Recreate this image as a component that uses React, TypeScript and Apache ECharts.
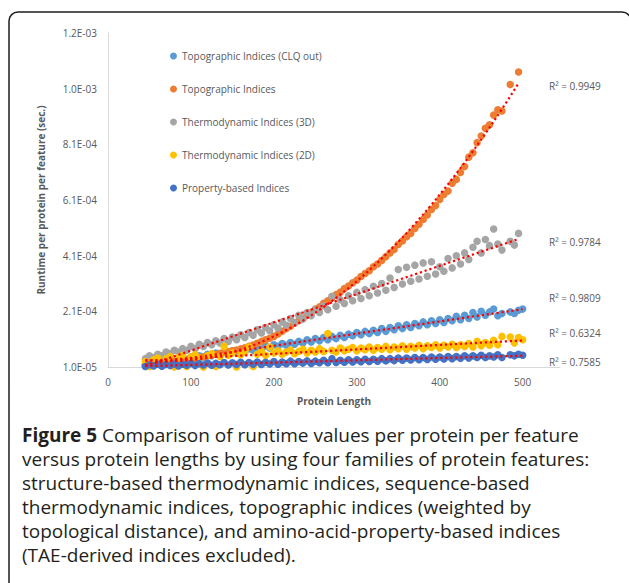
import React, { useEffect, useRef } from "react";
import * as echarts from "echarts";

// All runtime values below are in units of 1e-5 seconds.
const UNIT = 1e-5;
const AXIS_ORIGIN = 1; // the y axis starts at 1.0E-05 s (1 unit)

const lengths = [
  45, 50, 55, 60, 65, 70, 75, 80, 85, 90,
  95, 100, 105, 110, 115, 120, 125, 130, 135, 140,
  145, 150, 155, 160, 165, 170, 175, 180, 185, 190,
  195, 200, 205, 210, 215, 220, 225, 230, 235, 240,
  245, 250, 255, 260, 265, 270, 275, 280, 285, 290,
  295, 300, 305, 310, 315, 320, 325, 330, 335, 340,
  345, 350, 355, 360, 365, 370, 375, 380, 385, 390,
  395, 400, 405, 410, 415, 420, 425, 430, 435, 440,
  445, 450, 455, 460, 465, 470, 475, 480, 485, 490,
  495, 500,
];

const topoClqOut = [
  2.0, 2.6, 2.2, 3.0, 2.6, 3.4, 3.0, 3.8, 3.4, 4.2,
  3.8, 4.6, 4.2, 5.0, 4.6, 5.6, 5.0, 6.0, 5.4, 6.4,
  5.8, 6.8, 6.2, 7.2, 6.6, 7.6, 7.0, 8.0, 7.4, 8.6,
  7.8, 9.0, 8.4, 9.4, 8.8, 9.8, 9.2, 10.2, 9.6, 10.8,
  10.0, 11.2, 10.4, 11.6, 10.8, 12.0, 11.2, 12.4, 11.6, 12.8,
  12.2, 13.4, 12.6, 13.8, 13.0, 14.2, 13.4, 14.8, 13.8, 15.2,
  14.4, 15.8, 14.8, 16.2, 15.2, 16.6, 15.8, 17.2, 16.2, 17.6,
  16.6, 18.0, 17.0, 18.4, 17.6, 19.2, 18.0, 19.6, 18.4, 20.6,
  19.0, 21.0, 19.6, 20.8, 21.8, 19.4, 20.2, null, 20.8, 20.2,
  21.4, 21.8,
];

const topoIndices = [
  1.5, 1.7, 1.9, 2.0, 2.3, 2.4, 2.7, 2.9, 3.2, 3.4,
  3.6, 3.8, 4.1, 4.4, 4.7, 5.0, 5.3, 5.6, 5.9, 6.2,
  6.5, 6.8, 7.1, 7.5, 7.9, 8.4, 8.9, 9.5, 10.2, 10.8,
  11.3, 12.0, 12.9, 13.8, 14.8, 15.6, 16.7, 17.6, 18.5, 19.6,
  20.6, 21.8, 22.6, 23.9, 24.8, 25.9, 27.0, 27.9, 29.2, 30.1,
  31.3, 32.2, 33.5, 34.6, 35.6, 37.0, 38.0, 39.3, 40.6, 42.0,
  43.2, 45.0, 46.3, 47.8, 49.0, 50.8, 52.3, 54.0, 55.6, 57.6,
  59.0, 61.2, 63.0, 64.2, 67.0, 68.4, 70.9, 73.0, 76.4, 78.0,
  81.6, 84.0, 86.8, 88.0, 91.5, 93.4, 93.0, null, 102.5, null,
  107.0, null,
];

const thermo3D = [
  4.0, 5.0, 4.4, 5.6, 5.0, 6.4, 5.8, 7.0, 6.4, 7.6,
  7.0, 8.4, 7.6, 9.2, 8.4, 9.8, 9.0, 10.4, 9.6, 11.2,
  10.2, 11.8, 10.8, 12.6, 11.6, 13.4, 12.4, 14.4, 13.2, 15.2,
  14.0, 16.2, 15.0, 17.2, 16.0, 18.4, 17.0, 19.6, 18.2, 20.6,
  19.4, 21.6, 20.6, 23.0, 21.6, 26.4, 22.8, 25.2, 23.8, 26.6,
  24.8, 27.8, 25.6, 28.8, 26.6, 30.0, 27.6, 31.0, 28.6, 33.0,
  29.6, 36.0, 30.8, 36.8, 31.8, 37.6, 32.6, 38.4, 33.6, 38.8,
  34.4, 37.0, 35.4, 40.0, 36.6, 41.0, 38.0, 42.0, 39.6, 44.0,
  46.2, 42.0, 46.8, 44.6, 50.6, 45.2, 43.0, null, 46.2, 44.8,
  49.0, null,
];

const thermo2D = [
  3.0, 1.2, 3.6, 4.2, 1.4, 4.0, 4.8, 1.0, 4.4, 5.2,
  1.2, 4.6, 5.4, 4.2, 1.0, 5.0, 5.8, 1.2, 4.8, 8.4,
  5.2, 6.0, 1.0, 5.4, 6.4, 8.2, 1.2, 5.6, 6.6, 5.2,
  8.2, 6.0, 6.8, 5.6, 6.4, 7.0, 5.8, 6.6, 7.4, 6.0,
  7.0, 6.4, 7.6, 6.6, 13.0, 7.0, 6.4, 7.8, 6.8, 7.4,
  8.0, 6.8, 7.8, 7.2, 8.2, 7.0, 8.0, 7.4, 8.4, 7.2,
  8.2, 7.6, 8.6, 7.4, 8.4, 7.8, 8.8, 7.6, 8.6, 8.0,
  9.0, 7.8, 8.8, 8.2, 9.2, 8.0, 9.0, 8.4, 9.4, 8.2,
  10.2, 8.6, 9.8, 8.8, 10.6, 9.0, 12.0, null, 11.8, 9.6,
  11.6, 10.8,
];

const propertyBased = [
  1.2, 1.8, 1.4, 2.0, 1.3, 1.9, 1.5, 2.1, 1.4, 2.0,
  1.6, 2.3, 1.5, 2.2, 1.7, 2.4, 1.6, 2.3, 1.8, 2.6,
  1.7, 2.5, 1.9, 2.7, 1.8, 2.6, 2.0, 2.8, 1.9, 2.7,
  2.1, 3.0, 2.0, 2.8, 2.2, 3.1, 2.2, 3.0, 2.4, 3.2,
  2.3, 3.1, 2.5, 3.4, 2.5, 4.0, 2.6, 3.4, 2.7, 3.6,
  2.8, 3.6, 2.9, 3.8, 3.0, 3.8, 3.1, 4.0, 3.2, 4.0,
  3.3, 4.2, 3.4, 4.2, 3.5, 4.4, 3.6, 4.4, 3.7, 4.6,
  3.8, 4.6, 3.9, 4.8, 4.0, 4.8, 4.1, 5.0, 4.2, 5.0,
  4.4, 5.2, 4.4, 5.0, 4.6, 5.4, 4.4, null, 5.4, 5.0,
  5.6, 5.2,
];

const seriesNames = [
  "Topographic Indices (CLQ out)",
  "Topographic Indices",
  "Thermodynamic Indices (3D)",
  "Thermodynamic Indices (2D)",
  "Property-based Indices",
];
const seriesColors = ["#5B9BD5", "#ED7D31", "#A5A5A5", "#FFC000", "#4472C4"];
const seriesValues = [topoClqOut, topoIndices, thermo3D, thermo2D, propertyBased];
const trendOrders = [1, 2, 1, 1, 1];
const r2Labels = ["R² = 0.9809", "R² = 0.9949", "R² = 0.9784", "R² = 0.6324", "R² = 0.7585"];

const captionBold = "Figure 5";
const captionLines = [
  " Comparison of runtime values per protein per feature",
  "versus protein lengths by using four families of protein features:",
  "structure-based thermodynamic indices, sequence-based",
  "thermodynamic indices, topographic indices (weighted by",
  "topological distance), and amino-acid-property-based indices",
  "(TAE-derived indices excluded).",
];

const FONT = "'Open Sans', 'Noto Sans', sans-serif";

function fitPoly(xs: number[], ys: number[], order: number): number[] {
  const n = order + 1;
  const A: number[][] = Array.from({ length: n }, () => new Array(n + 1).fill(0));
  for (let k = 0; k < xs.length; k++) {
    for (let i = 0; i < n; i++) {
      for (let j = 0; j < n; j++) A[i][j] += Math.pow(xs[k], i + j);
      A[i][n] += ys[k] * Math.pow(xs[k], i);
    }
  }
  for (let c = 0; c < n; c++) {
    let p = c;
    for (let r = c + 1; r < n; r++) if (Math.abs(A[r][c]) > Math.abs(A[p][c])) p = r;
    [A[c], A[p]] = [A[p], A[c]];
    for (let r = 0; r < n; r++) {
      if (r === c) continue;
      const f = A[r][c] / A[c][c];
      for (let j = c; j <= n; j++) A[r][j] -= f * A[c][j];
    }
  }
  return A.map((row, i) => row[n] / A[i][i]);
}

function formatSci(v: number): string {
  const s = v.toExponential(1);
  const [m, e] = s.split("e");
  const exp = parseInt(e, 10);
  return `${m}E${exp < 0 ? "-" : "+"}${String(Math.abs(exp)).padStart(2, "0")}`;
}

export default function App() {
  const ref = useRef<HTMLDivElement>(null);

  useEffect(() => {
    if (!ref.current) return;
    const chart = echarts.init(ref.current, undefined, { renderer: "svg" });

    const scatterSeries: any[] = [];
    const trendSeries: any[] = [];
    seriesValues.forEach((vals, si) => {
      const pts: number[][] = [];
      const xs: number[] = [];
      const ys: number[] = [];
      vals.forEach((v, i) => {
        if (v === null || v === undefined) return;
        pts.push([lengths[i], (v as number) - AXIS_ORIGIN]);
        xs.push(lengths[i]);
        ys.push(v as number);
      });
      scatterSeries.push({
        name: seriesNames[si],
        type: "scatter",
        data: pts,
        symbol: "circle",
        symbolSize: 7.5,
        itemStyle: { color: seriesColors[si], opacity: 1 },
        z: 2 + si * 0.01,
        silent: true,
      });
      const coef = fitPoly(xs, ys, trendOrders[si]);
      const xmin = Math.min(...xs);
      const xmax = Math.max(...xs);
      const tPts: number[][] = [];
      for (let x = xmin; x <= xmax + 0.001; x += 2.5) {
        let y = 0;
        coef.forEach((c, k) => (y += c * Math.pow(x, k)));
        tPts.push([x, y - AXIS_ORIGIN]);
      }
      trendSeries.push({
        name: seriesNames[si] + " trend",
        type: "line",
        data: tPts,
        showSymbol: false,
        symbol: "none",
        smooth: false,
        silent: true,
        z: 5,
        lineStyle: { color: "#FF0000", width: 2.2, type: [2.2, 2.8], cap: "butt" },
      });
    });

    const r2Y = [298, 86, 242, 333, 362];

    const option: any = {
      animation: false,
      backgroundColor: "#ffffff",
      textStyle: { fontFamily: FONT },
      grid: { left: 108, right: 69, top: 33, bottom: 216, containLabel: false },
      legend: {
        data: seriesNames,
        orient: "vertical",
        left: 165,
        top: 46,
        itemWidth: 7,
        itemHeight: 7,
        itemGap: 23,
        icon: "circle",
        selectedMode: false,
        textStyle: { fontSize: 10, color: "#595959", fontFamily: FONT },
      },
      xAxis: {
        type: "value",
        min: 0,
        max: 545,
        interval: 100,
        axisLine: { show: true, lineStyle: { color: "#D9D9D9", width: 1 } },
        axisTick: { show: false },
        splitLine: { show: false },
        axisLabel: {
          color: "#595959",
          fontSize: 10,
          fontFamily: FONT,
          margin: 10,
          showMaxLabel: false,
          formatter: (v: number) => (v % 100 === 0 && v <= 500 ? String(v) : ""),
        },
        name: "Protein Length",
        nameLocation: "middle",
        nameGap: 29,
        nameTextStyle: { fontSize: 10, fontWeight: "bold", color: "#595959", fontFamily: FONT },
      },
      yAxis: {
        type: "value",
        min: 0,
        max: 120,
        interval: 20,
        axisLine: { show: true, lineStyle: { color: "#D9D9D9", width: 1 } },
        axisTick: { show: false },
        splitLine: { show: false },
        axisLabel: {
          color: "#595959",
          fontSize: 10,
          fontFamily: FONT,
          margin: 11,
          formatter: (v: number) => formatSci((v + AXIS_ORIGIN) * UNIT),
        },
        name: "Runtime per protein per feature (sec.)",
        nameLocation: "middle",
        nameGap: 62,
        nameRotate: 90,
        nameTextStyle: { fontSize: 10, fontWeight: "bold", color: "#595959", fontFamily: FONT },
      },
      series: [...scatterSeries, ...trendSeries],
      graphic: [
        {
          type: "rect",
          silent: true,
          z: 0,
          shape: { x: 9, y: 12, width: 622, height: 700, r: 9 },
          style: { fill: "none", stroke: "#1e1e1e", lineWidth: 1.5 },
        },
        ...r2Labels.map((t, i) => ({
          type: "text",
          silent: true,
          x: 549,
          y: r2Y[i],
          style: {
            text: t,
            fontSize: 10,
            fontFamily: FONT,
            fill: "#595959",
            verticalAlign: "middle",
          },
        })),
        {
          type: "text",
          silent: true,
          x: 22,
          y: 423,
          style: {
            text: `{b|${captionBold}}` + captionLines.join("\n"),
            fontSize: 19,
            lineHeight: 24,
            fontFamily: FONT,
            fill: "#231F20",
            rich: {
              b: { fontSize: 19, lineHeight: 24, fontWeight: "bold", fontFamily: FONT, fill: "#231F20" },
            },
          },
        },
      ],
    };

    chart.setOption(option);
    return () => chart.dispose();
  }, []);

  return (
    <div
      ref={ref}
      style={{ position: "absolute", left: 0, top: 0, width: 629, height: 583, background: "#fff" }}
    />
  );
}
